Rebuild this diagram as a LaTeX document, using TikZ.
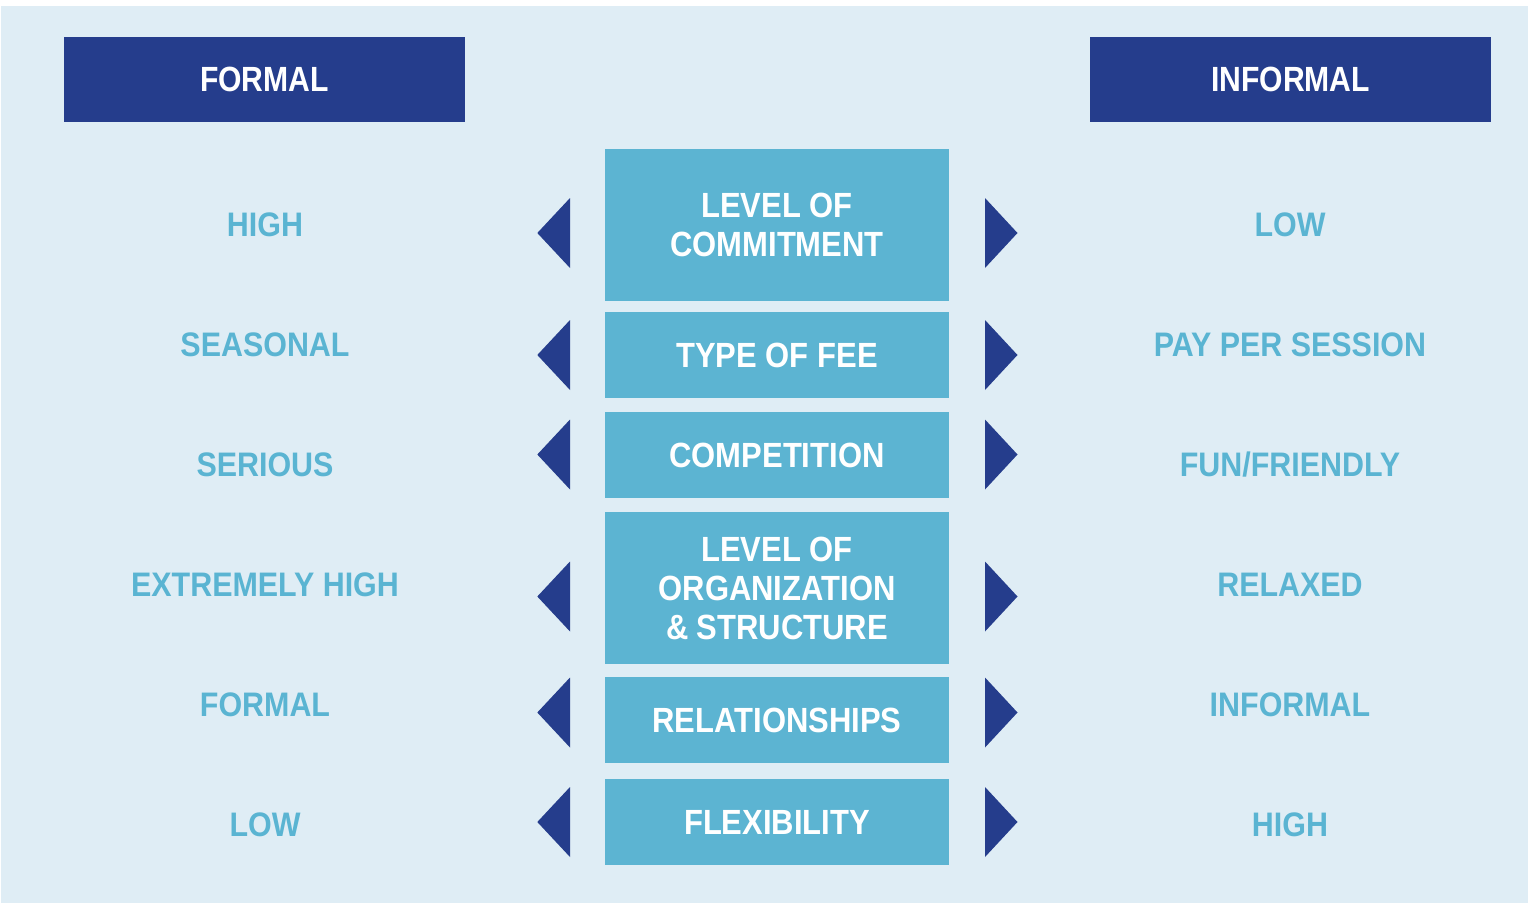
\documentclass[tikz,border=0pt]{standalone}
\usepackage{fontspec}
\setmainfont{Liberation Sans}[FakeStretch=0.86]
\newfontfamily\sidefont{Liberation Sans}[FakeStretch=0.895]
\newfontfamily\midfont{Liberation Sans}[FakeStretch=0.885]
\definecolor{bgblue}{RGB}{223,237,245}
\definecolor{darkblue}{RGB}{37,61,140}
\definecolor{midcyan}{RGB}{92,180,210}
\definecolor{labcyan}{RGB}{90,180,210}
\begin{document}
\begin{tikzpicture}[x=1pt,y=-1pt,
  header/.style={fill=darkblue, text=white, inner sep=0pt, minimum width=401pt, minimum height=85pt,
    font=\fontsize{35}{39}\selectfont\bfseries},
  midbox/.style={fill=midcyan, text=white, inner sep=0pt, minimum width=344pt, align=center,
    font=\midfont\fontsize{35}{39}\selectfont\bfseries},
  sidelab/.style={text=labcyan, inner sep=0pt, text height=24.4pt, text depth=0pt,
    font=\sidefont\fontsize{34}{38}\selectfont\bfseries},
  tri/.style={fill=darkblue}]
\useasboundingbox (0,0) rectangle (1528,907);
\fill[white] (0,0) rectangle (1528,907);
\fill[bgblue] (1,6) rectangle (1528,903);

\node[header] (hf) at (264.5,79.5) {FORMAL};
\node[header] (hi) at (1290.5,79.5) {INFORMAL};

\node[midbox, minimum height=152pt] (c1) at (777,225) {LEVEL OF\\COMMITMENT};
\node[midbox, minimum height=86pt] (c2) at (777,355) {TYPE OF FEE};
\node[midbox, minimum height=86pt] (c3) at (777,455) {COMPETITION};
\node[midbox, minimum height=152pt] (c4) at (777,588) {LEVEL OF\\ORGANIZATION\\\& STRUCTURE};
\node[midbox, minimum height=86pt] (c5) at (777,720) {RELATIONSHIPS};
\node[midbox, minimum height=86pt] (c6) at (777,822) {FLEXIBILITY};

\node[sidelab] (l1) at (265,224.5) {HIGH};
\node[sidelab] (l2) at (265,344.5) {SEASONAL};
\node[sidelab] (l3) at (265,464.5) {SERIOUS};
\node[sidelab] (l4) at (265,584.5) {EXTREMELY HIGH};
\node[sidelab] (l5) at (265,704.5) {FORMAL};
\node[sidelab] (l6) at (265,824.5) {LOW};

\node[sidelab] (r1) at (1290,224.5) {LOW};
\node[sidelab] (r2) at (1290,344.5) {PAY PER SESSION};
\node[sidelab] (r3) at (1290,464.5) {FUN/FRIENDLY};
\node[sidelab] (r4) at (1290,584.5) {RELAXED};
\node[sidelab] (r5) at (1290,704.5) {INFORMAL};
\node[sidelab] (r6) at (1290,824.5) {HIGH};

\foreach \yy in {233,355,454.5,596.5,712.5,822}{
  \fill[tri] (537.3,\yy) -- (570,\yy-35) -- (570,\yy+35) -- cycle;
  \fill[tri] (1017.5,\yy) -- (985,\yy-35) -- (985,\yy+35) -- cycle;
}
\end{tikzpicture}
\end{document}
